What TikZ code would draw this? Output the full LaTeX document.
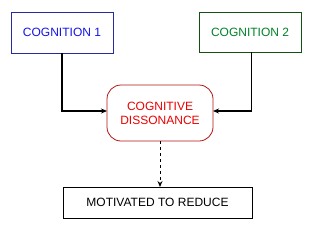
\documentclass[tikz,border=0pt]{standalone}
\usepackage{fontspec}
\setmainfont{Liberation Sans}
\usetikzlibrary{arrows.meta}
\definecolor{cblue}{RGB}{20,20,230}
\definecolor{cblueb}{RGB}{40,40,160}
\definecolor{cgreen}{RGB}{0,130,40}
\definecolor{cgreenb}{RGB}{20,80,20}
\definecolor{cred}{RGB}{235,0,0}
\definecolor{credb}{RGB}{180,20,20}
\tikzset{
  box/.style={draw, line width=0.8pt, fill=white, inner sep=0pt, align=center, font=\fontsize{12}{14}\selectfont},
  conn/.style={line width=1.2pt, -{Stealth[length=6pt,width=5pt]}},
}
\begin{document}
\begin{tikzpicture}[x=1pt,y=-1pt]
\useasboundingbox (0,0) rectangle (320,234);
\node[box, draw=cblueb, text=cblue, minimum width=102pt, minimum height=41pt] (c1) at (62,32.5) {COGNITION 1};
\node[box, draw=cgreenb, text=cgreen, minimum width=102pt, minimum height=40pt] (c2) at (250,32) {COGNITION 2};
\node[box, draw=credb, text=cred, rounded corners=14pt, minimum width=106pt, minimum height=56pt] (cd) at (160,113) {COGNITIVE\\DISSONANCE};
\node[box, minimum width=189pt, minimum height=31pt] (mr) at (157.5,202.5) {MOTIVATED TO REDUCE};
\coordinate (s1) at (62,53);
\coordinate (k1) at (62,111);
\coordinate (e1) at (107,111);
\coordinate (s2) at (251.5,52);
\coordinate (k2) at (251.5,111);
\coordinate (e2) at (213,111);
\coordinate (ds) at (160,141);
\coordinate (de) at (160,187);
\draw[conn] (s1) -- (k1) -- (e1);
\draw[conn] (s2) -- (k2) -- (e2);
\draw[conn, line width=0.9pt, dash pattern=on 3pt off 3pt] (ds) -- (de);
\end{tikzpicture}
\end{document}
